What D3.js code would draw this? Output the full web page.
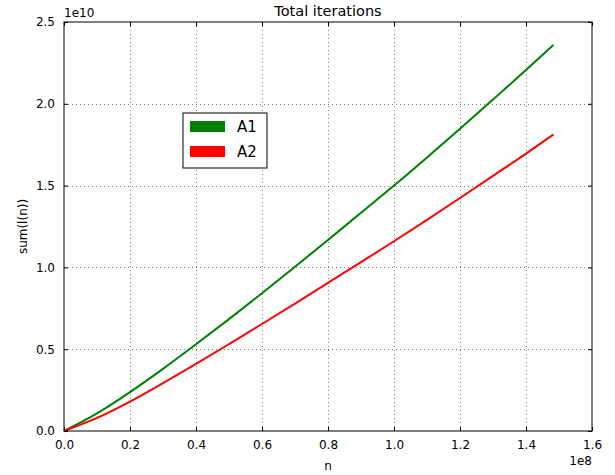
<!DOCTYPE html>
<html>
<head>
<meta charset="utf-8">
<script src="https://cdn.jsdelivr.net/npm/d3@7"></script>
<style>
  body { margin: 0; background: #fff; }
  svg { font-family: "DejaVu Sans", sans-serif; }
</style>
</head>
<body>
<script>
// n values (units of 1e8) and the two series (units of 1e10)
var nValues = [0, 0.1, 0.2, 0.3, 0.4, 0.5, 0.6, 0.7, 0.8, 0.9, 1.0, 1.1, 1.2, 1.3, 1.4, 1.483];
var a1Values = [0, 0.108, 0.238, 0.38, 0.53, 0.684, 0.842, 1.004, 1.168, 1.334, 1.50, 1.672, 1.848, 2.026, 2.206, 2.36];
var a2Values = [0, 0.08, 0.18, 0.293, 0.41, 0.531, 0.654, 0.779, 0.905, 1.032, 1.16, 1.291, 1.424, 1.559, 1.695, 1.812];
var seriesNames = ["A1", "A2"];
var seriesColors = ["#008000", "#ff0000"];
var xTicks = [0, 0.2, 0.4, 0.6, 0.8, 1.0, 1.2, 1.4, 1.6];
var yTicks = [0, 0.5, 1.0, 1.5, 2.0, 2.5];

var svgWidth = 615;
var svgHeight = 475;
var margin = { top: 22, right: 23, bottom: 44, left: 64 };
var chartWidth = svgWidth - margin.left - margin.right;
var chartHeight = svgHeight - margin.top - margin.bottom;

var svg = d3.select("body")
  .append("svg")
  .attr("width", svgWidth)
  .attr("height", svgHeight);

var chartGroup = svg.append("g")
  .attr("transform", `translate(${margin.left}, ${margin.top})`);

var xScale = d3.scaleLinear().domain([0, 1.6]).range([0, chartWidth]);
var yScale = d3.scaleLinear().domain([0, 2.5]).range([chartHeight, 0]);

// grid
chartGroup.append("g")
  .selectAll("line")
  .data(xTicks.slice(1, -1))
  .enter()
  .append("line")
  .attr("x1", d => Math.round(xScale(d)) + 0.5)
  .attr("x2", d => Math.round(xScale(d)) + 0.5)
  .attr("y1", 0)
  .attr("y2", chartHeight)
  .attr("stroke", "#555")
  .attr("stroke-width", 0.8)
  .attr("stroke-dasharray", "1,3");
chartGroup.append("g")
  .selectAll("line")
  .data(yTicks.slice(1, -1))
  .enter()
  .append("line")
  .attr("y1", d => Math.round(yScale(d)) + 0.5)
  .attr("y2", d => Math.round(yScale(d)) + 0.5)
  .attr("x1", 0)
  .attr("x2", chartWidth)
  .attr("stroke", "#555")
  .attr("stroke-width", 0.8)
  .attr("stroke-dasharray", "1,3");

// axes, ticks pointing inward
var fmt = d3.format(".1f");
var bottomAxis = d3.axisBottom(xScale).tickValues(xTicks).tickFormat(fmt).tickSizeInner(-4).tickSizeOuter(0).tickPadding(9);
var topAxis = d3.axisTop(xScale).tickValues(xTicks).tickFormat("").tickSizeInner(-4).tickSizeOuter(0);
var leftAxis = d3.axisLeft(yScale).tickValues(yTicks).tickFormat(fmt).tickSizeInner(-4).tickSizeOuter(0).tickPadding(9);
var rightAxis = d3.axisRight(yScale).tickValues(yTicks).tickFormat("").tickSizeInner(-4).tickSizeOuter(0);

function styleAxis(g) {
  g.select(".domain").remove();
  g.selectAll("line").attr("stroke", "#000");
  g.selectAll("text").attr("fill", "#000").style("font-size", "12px").style("font-family", "DejaVu Sans");
}

chartGroup.append("g").attr("transform", `translate(0, ${chartHeight})`).call(bottomAxis).call(styleAxis);
chartGroup.append("g").call(topAxis).call(styleAxis);
chartGroup.append("g").call(leftAxis).call(styleAxis);
chartGroup.append("g").attr("transform", `translate(${chartWidth}, 0)`).call(rightAxis).call(styleAxis);

// lines
var seriesData = [a1Values, a2Values];
var line = d3.line()
  .x((d, i) => xScale(nValues[i]))
  .y(d => yScale(d))
  .curve(d3.curveMonotoneX);

chartGroup.selectAll(".series")
  .data(seriesData)
  .enter()
  .append("path")
  .attr("class", "series")
  .attr("d", line)
  .attr("fill", "none")
  .attr("stroke", (d, i) => seriesColors[i])
  .attr("stroke-width", 2);

// frame
chartGroup.append("rect")
  .attr("x", 0)
  .attr("y", 0)
  .attr("width", chartWidth)
  .attr("height", chartHeight)
  .attr("fill", "none")
  .attr("stroke", "#000")
  .attr("stroke-width", 1);

// legend
var legend = svg.append("g").attr("transform", "translate(183, 113)");
legend.append("rect")
  .attr("width", 84)
  .attr("height", 55)
  .attr("fill", "#fff")
  .attr("stroke", "#000")
  .attr("stroke-width", 1);
var items = legend.selectAll(".item")
  .data(seriesNames)
  .enter()
  .append("g")
  .attr("transform", (d, i) => `translate(0, ${i * 25})`);
items.append("rect")
  .attr("x", 7)
  .attr("y", 8)
  .attr("width", 35)
  .attr("height", 11)
  .attr("fill", (d, i) => seriesColors[i]);
items.append("text")
  .attr("x", 54)
  .attr("y", 19)
  .style("font-size", "15px")
  .text(d => d);

// titles and labels
svg.append("text")
  .attr("x", margin.left + chartWidth / 2)
  .attr("y", 16)
  .style("text-anchor", "middle")
  .style("font-size", "14.5px")
  .text("Total iterations");

svg.append("text")
  .attr("x", margin.left + chartWidth / 2)
  .attr("y", 470)
  .style("text-anchor", "middle")
  .style("font-size", "12px")
  .text("n");

svg.append("text")
  .attr("transform", "rotate(-90)")
  .attr("x", -(margin.top + chartHeight / 2))
  .attr("y", 27)
  .style("text-anchor", "middle")
  .style("font-size", "12px")
  .text("sum(l(n))");

svg.append("text")
  .attr("x", margin.left)
  .attr("y", 17)
  .style("font-size", "12px")
  .text("1e10");

svg.append("text")
  .attr("x", margin.left + chartWidth)
  .attr("y", 465)
  .style("text-anchor", "end")
  .style("font-size", "12px")
  .text("1e8");
</script>
</body>
</html>
